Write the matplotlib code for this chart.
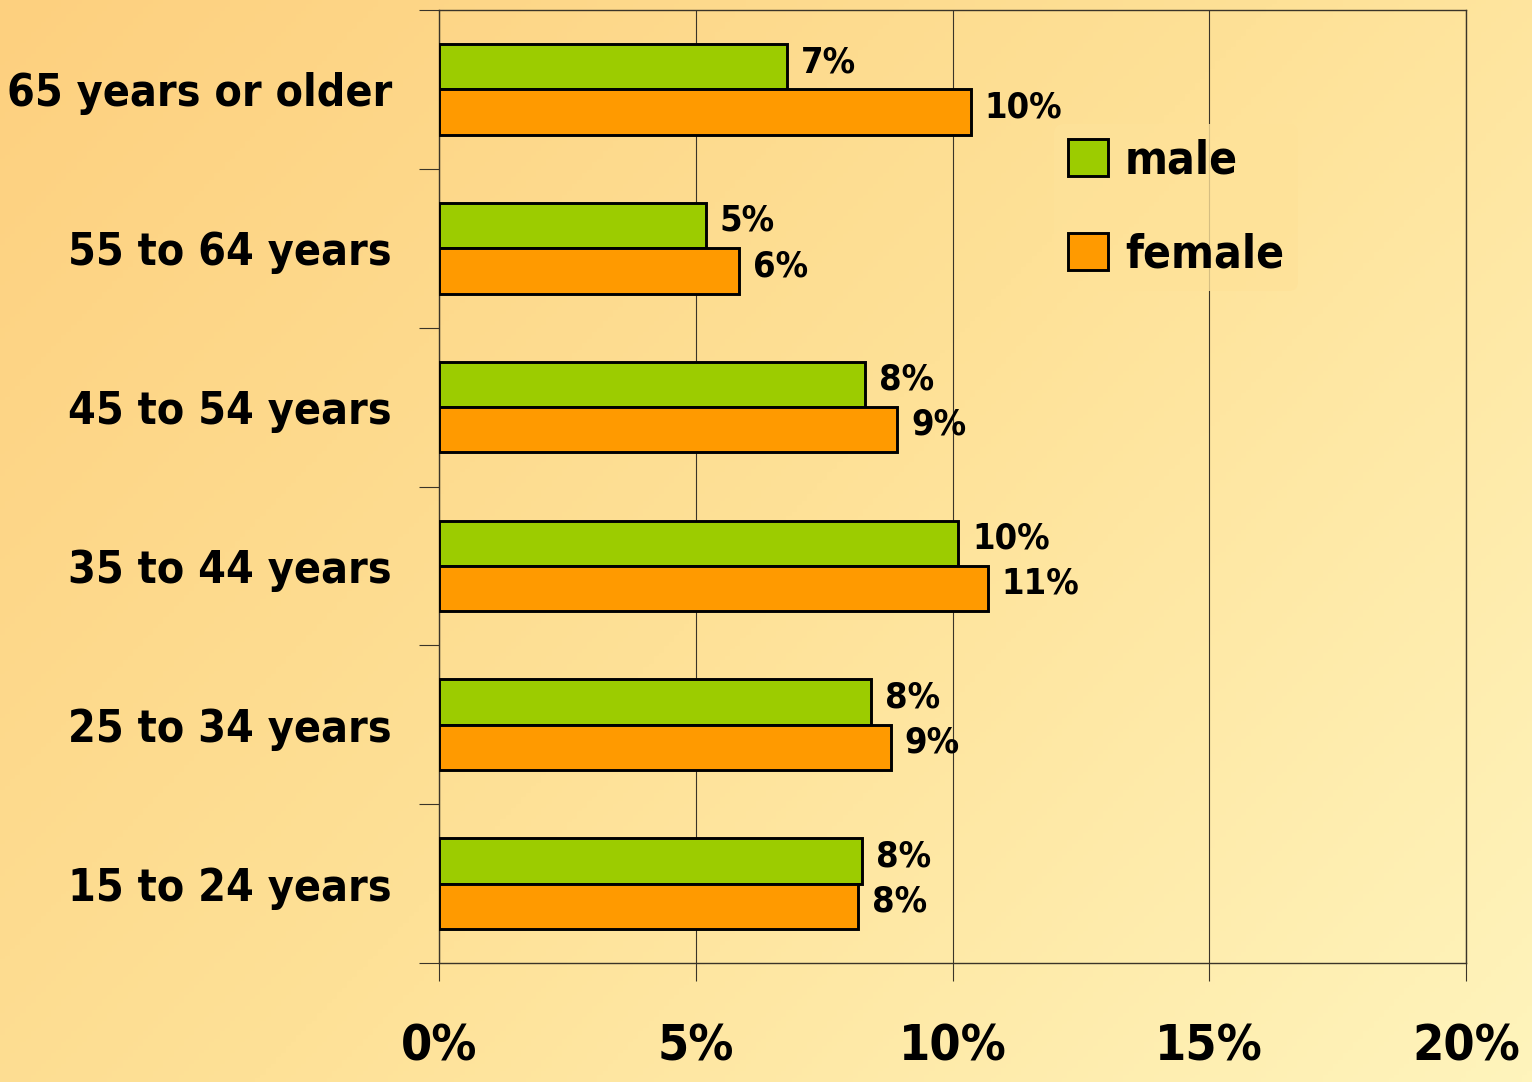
import numpy as np
import matplotlib.pyplot as plt
from matplotlib.colors import LinearSegmentedColormap
from matplotlib.ticker import FixedLocator

categories = ["15 to 24 years", "25 to 34 years", "35 to 44 years",
              "45 to 54 years", "55 to 64 years", "65 years or older"]
male = [8.24, 8.41, 10.11, 8.30, 5.20, 6.78]
female = [8.16, 8.80, 10.69, 8.92, 5.84, 10.36]
male_labels = ["8%", "8%", "10%", "8%", "5%", "7%"]
female_labels = ["8%", "9%", "11%", "9%", "6%", "10%"]
x_ticks = [0, 5, 10, 15, 20]
x_ticklabels = ["0%", "5%", "10%", "15%", "20%"]

FONT = "DejaVu Sans"
GREEN = "#9ccc00"
ORANGE = "#ff9a00"
LINE = "#3a3428"

fig = plt.figure(figsize=(15.32, 10.82), dpi=100)

# diagonal background gradient
bg = fig.add_axes([0, 0, 1, 1], zorder=-10)
gx, gy = np.meshgrid(np.linspace(0, 1, 300), np.linspace(0, 1, 300))
t = (gx * 0.6 + gy * 0.4)
cmap = LinearSegmentedColormap.from_list("bg", ["#fdd07f", "#fee197", "#fff4bc"])
bg.imshow(t, cmap=cmap, aspect="auto", extent=[0, 1, 0, 1], origin="upper")
bg.axis("off")

ax = fig.add_axes([439 / 1532, 1 - 963 / 1082, (1466 - 439) / 1532, (963 - 10) / 1082])
ax.patch.set_alpha(0)

pos = np.arange(len(categories))
h = 0.285
ax.barh(pos + h / 2, male, height=h, color=GREEN, edgecolor="black", linewidth=2.1,
        label="male", zorder=3)
ax.barh(pos - h / 2, female, height=h, color=ORANGE, edgecolor="black", linewidth=2.1,
        label="female", zorder=3)

for i in range(len(categories)):
    ax.text(male[i] + 0.27, pos[i] + h / 2 + 0.03, male_labels[i], va="center", ha="left",
            fontsize=26, family=FONT, fontweight="bold", stretch="condensed", zorder=4)
    ax.text(female[i] + 0.27, pos[i] - h / 2 + 0.03, female_labels[i], va="center", ha="left",
            fontsize=26, family=FONT, fontweight="bold", stretch="condensed", zorder=4)

ax.set_xlim(0, 20)
ax.set_ylim(-0.5, len(categories) - 0.5)
ax.set_xticks(x_ticks)
ax.set_xticklabels(x_ticklabels, fontsize=36, family=FONT, fontweight="bold", stretch="condensed")
ax.set_yticks(pos)
ax.set_yticklabels(categories, fontsize=32, family=FONT, fontweight="bold", stretch="condensed")
ax.yaxis.set_minor_locator(FixedLocator(np.arange(-0.5, len(categories), 1.0)))
ax.tick_params(axis="y", which="major", length=0, pad=34)
ax.tick_params(axis="y", which="minor", length=14.5, width=0.8, color=LINE)
ax.tick_params(axis="x", which="major", length=13, width=0.8, color=LINE, pad=30)

ax.grid(axis="x", color=LINE, linewidth=0.8, zorder=0)
for s in ax.spines.values():
    s.set_color(LINE)
    s.set_linewidth(1.0)

leg = ax.legend(loc="upper left", bbox_to_anchor=(0.577, 0.904), frameon=True,
                prop={"family": FONT, "weight": "bold", "size": 33, "stretch": "condensed"},
                handlelength=0.87, handleheight=0.87, handletextpad=0.37,
                labelspacing=1.08, borderpad=0.3)
leg.get_frame().set_facecolor(cmap(0.6 * 0.76 + 0.4 * 0.19))
leg.get_frame().set_edgecolor("none")
for p in leg.get_patches():
    p.set_linewidth(2.1)

fig.savefig("out.png", dpi=100)
